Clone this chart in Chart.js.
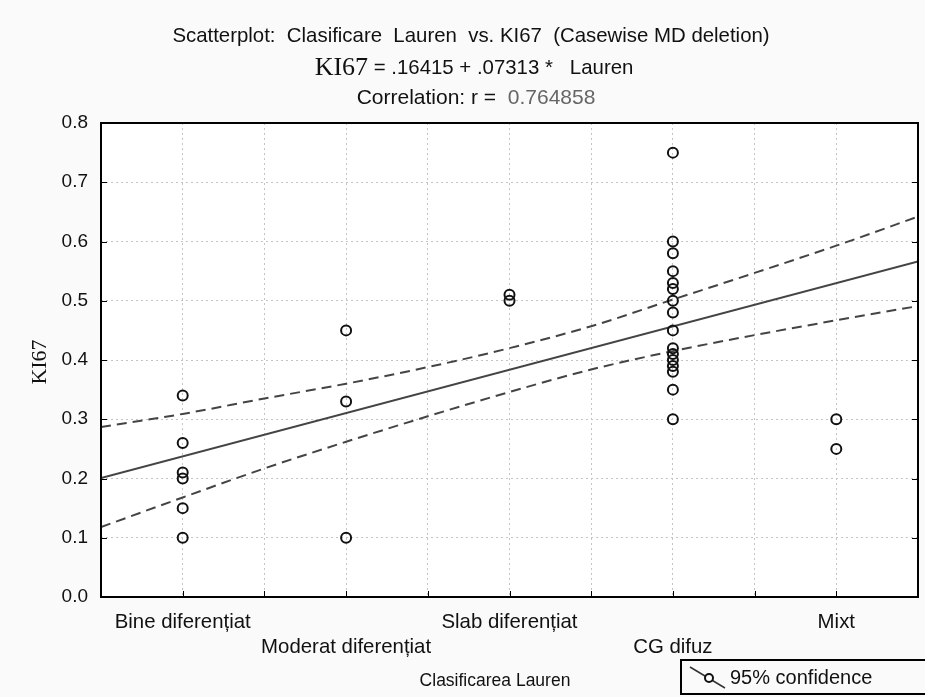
<!DOCTYPE html>
<html>
<head>
<meta charset="utf-8">
<script src="https://cdn.jsdelivr.net/npm/chart.js@4.4.0/dist/chart.umd.min.js"></script>
<style>
html, body { margin: 0; padding: 0; background: #fafafa; }
</style>
</head>
<body>
<canvas id="scatterChart" width="925" height="697"></canvas>
<script>
// categories on the x axis (1..5)
var categories = ['Bine diferențiat', 'Moderat diferențiat', 'Slab diferențiat', 'CG difuz', 'Mixt'];

// KI67 values per Lauren class
var bineValues = [0.34, 0.26, 0.21, 0.20, 0.15, 0.10];
var moderatValues = [0.45, 0.33, 0.10];
var slabValues = [0.51, 0.50];
var difuzValues = [0.75, 0.60, 0.58, 0.55, 0.53, 0.52, 0.50, 0.48, 0.45, 0.42, 0.41, 0.40, 0.39, 0.38, 0.35, 0.30];
var mixtValues = [0.30, 0.25];

// regression line ends
var fitX = [0.5, 5.5];
var fitY = [0.2007, 0.5664];

// 95% confidence band
var bandX = [0.5, 1, 1.5, 2, 2.5, 3, 3.5, 4, 4.5, 5, 5.5];
var upperY = [0.287, 0.309, 0.335, 0.360, 0.388, 0.420, 0.457, 0.502, 0.547, 0.593, 0.642];
var lowerY = [0.118, 0.168, 0.217, 0.262, 0.305, 0.346, 0.384, 0.415, 0.442, 0.467, 0.491];

var yTicks = [0, 0.1, 0.2, 0.3, 0.4, 0.5, 0.6, 0.7, 0.8];

var SANS = "'Liberation Sans', Arial, sans-serif";
var SERIF = "'Liberation Serif', 'Times New Roman', serif";

function toPoints(xs, ys) {
    return xs.map(function (x, i) { return { x: x, y: ys[i] }; });
}

var scatterPoints = [];
[bineValues, moderatValues, slabValues, difuzValues, mixtValues].forEach(function (vals, i) {
    vals.forEach(function (v) { scatterPoints.push({ x: i + 1, y: v }); });
});

var framePlugin = {
    id: 'frame',
    beforeDraw: function (chart) {
        var c = chart.ctx, a = chart.chartArea;
        c.save();
        c.fillStyle = '#fafafa';
        c.fillRect(0, 0, chart.width, chart.height);
        c.fillStyle = '#ffffff';
        c.fillRect(a.left, a.top, a.right - a.left, a.bottom - a.top);
        c.restore();
    },
    afterDraw: function (chart) {
        var c = chart.ctx, a = chart.chartArea;
        var xs = chart.scales.x, ys = chart.scales.y;
        c.save();

        // frame
        c.strokeStyle = '#000';
        c.lineWidth = 2;
        c.strokeRect(a.left, a.top, a.right - a.left, a.bottom - a.top);

        // inward ticks
        c.lineWidth = 1;
        yTicks.forEach(function (v) {
            var py = Math.round(ys.getPixelForValue(v)) + 0.5;
            c.beginPath();
            c.moveTo(a.left, py); c.lineTo(a.left + 6, py);
            c.moveTo(a.right - 6, py); c.lineTo(a.right, py);
            c.stroke();
        });
        for (var t = 1; t <= 5; t += 0.5) {
            var px = Math.round(xs.getPixelForValue(t)) + 0.5;
            c.beginPath();
            c.moveTo(px, a.bottom); c.lineTo(px, a.bottom - 6);
            c.stroke();
        }

        // titles
        c.fillStyle = '#111';
        c.textBaseline = 'middle';
        c.textAlign = 'center';
        c.font = '20.4px ' + SANS;
        c.fillText('Scatterplot:  Clasificare  Lauren  vs. KI67  (Casewise MD deletion)', 471, 36);

        c.textAlign = 'left';
        var p1 = 'KI67', p2 = ' = .16415 + .07313 *   Lauren';
        c.font = '26px ' + SERIF;
        var w1 = c.measureText(p1).width;
        c.font = '20.4px ' + SANS;
        var w2 = c.measureText(p2).width;
        var x0 = 474 - (w1 + w2) / 2;
        c.font = '26px ' + SERIF;
        c.fillText(p1, x0, 68);
        c.font = '20.4px ' + SANS;
        c.fillText(p2, x0 + w1, 68);

        c.font = '21px ' + SANS;
        var q1 = 'Correlation: r =  ', q2 = '0.764858';
        var v1 = c.measureText(q1).width, v2 = c.measureText(q2).width;
        var x1 = 476 - (v1 + v2) / 2;
        c.fillText(q1, x1, 98);
        c.fillStyle = '#666';
        c.fillText(q2, x1 + v1, 98);

        // axis titles
        c.fillStyle = '#111';
        c.textAlign = 'center';
        c.font = '17.5px ' + SANS;
        c.fillText('Clasificarea Lauren', 495, 681);
        c.save();
        c.translate(40, 362);
        c.rotate(-Math.PI / 2);
        c.font = '22px ' + SERIF;
        c.fillText('KI67', 0, 0);
        c.restore();

        // legend box
        c.strokeStyle = '#000';
        c.lineWidth = 2;
        c.strokeRect(681, 660, 270, 34);
        c.strokeStyle = '#333';
        c.lineWidth = 1.5;
        c.beginPath();
        c.moveTo(690, 667); c.lineTo(725, 688);
        c.stroke();
        c.beginPath();
        c.arc(709, 678, 4, 0, Math.PI * 2);
        c.fillStyle = '#fff';
        c.fill();
        c.strokeStyle = '#111';
        c.lineWidth = 2;
        c.stroke();
        c.fillStyle = '#111';
        c.textAlign = 'left';
        c.font = '20px ' + SANS;
        c.fillText('95% confidence', 730, 678);

        c.restore();
    }
};

var ctx = document.getElementById('scatterChart').getContext('2d');
var myChart = new Chart(ctx, {
    type: 'scatter',
    data: {
        datasets: [
            {
                label: 'KI67',
                data: scatterPoints,
                pointRadius: 5,
                pointHoverRadius: 5,
                borderWidth: 2,
                borderColor: '#111',
                backgroundColor: 'rgba(255,255,255,0)'
            },
            {
                label: 'Regression',
                type: 'line',
                data: toPoints(fitX, fitY),
                borderColor: '#444',
                borderWidth: 2,
                pointRadius: 0,
                fill: false
            },
            {
                label: 'Upper 95%',
                type: 'line',
                data: toPoints(bandX, upperY),
                borderColor: '#444',
                borderWidth: 2,
                borderDash: [10, 6],
                cubicInterpolationMode: 'monotone',
                pointRadius: 0,
                fill: false
            },
            {
                label: 'Lower 95%',
                type: 'line',
                data: toPoints(bandX, lowerY),
                borderColor: '#444',
                borderWidth: 2,
                borderDash: [10, 6],
                cubicInterpolationMode: 'monotone',
                pointRadius: 0,
                fill: false
            }
        ]
    },
    options: {
        responsive: false,
        animation: false,
        layout: { padding: { top: 123, right: -2, left: 0, bottom: 0 } },
        plugins: {
            legend: { display: false },
            title: { display: false },
            tooltip: { enabled: false }
        },
        scales: {
            x: {
                type: 'linear',
                min: 0.5,
                max: 5.5,
                afterFit: function (scale) {
                    scale.height = 100;
                    scale.paddingRight = 0;
                },
                afterBuildTicks: function (scale) {
                    var t = [];
                    for (var v = 0.5; v <= 5.5; v += 0.5) t.push({ value: v });
                    scale.ticks = t;
                },
                grid: { color: '#c4c4c4', drawTicks: false },
                border: { display: false, dash: [2, 3] },
                ticks: {
                    padding: 13,
                    maxRotation: 0,
                    autoSkip: false,
                    color: '#111',
                    font: { family: SANS, size: 20.4, lineHeight: 1.23 },
                    callback: function (value) {
                        if (value % 1 !== 0) return '';
                        var label = categories[value - 1];
                        if (!label) return '';
                        return value % 2 === 0 ? ['', label] : label;
                    }
                }
            },
            y: {
                min: 0,
                max: 0.8,
                afterFit: function (scale) { scale.width = 101; },
                afterBuildTicks: function (scale) {
                    scale.ticks = yTicks.map(function (v) { return { value: v }; });
                },
                grid: { color: '#c4c4c4', drawTicks: false },
                border: { display: false, dash: [2, 3] },
                ticks: {
                    padding: 13,
                    color: '#111',
                    font: { family: SANS, size: 19 },
                    callback: function (value) { return value.toFixed(1); }
                }
            }
        }
    },
    plugins: [framePlugin]
});
</script>
</body>
</html>
